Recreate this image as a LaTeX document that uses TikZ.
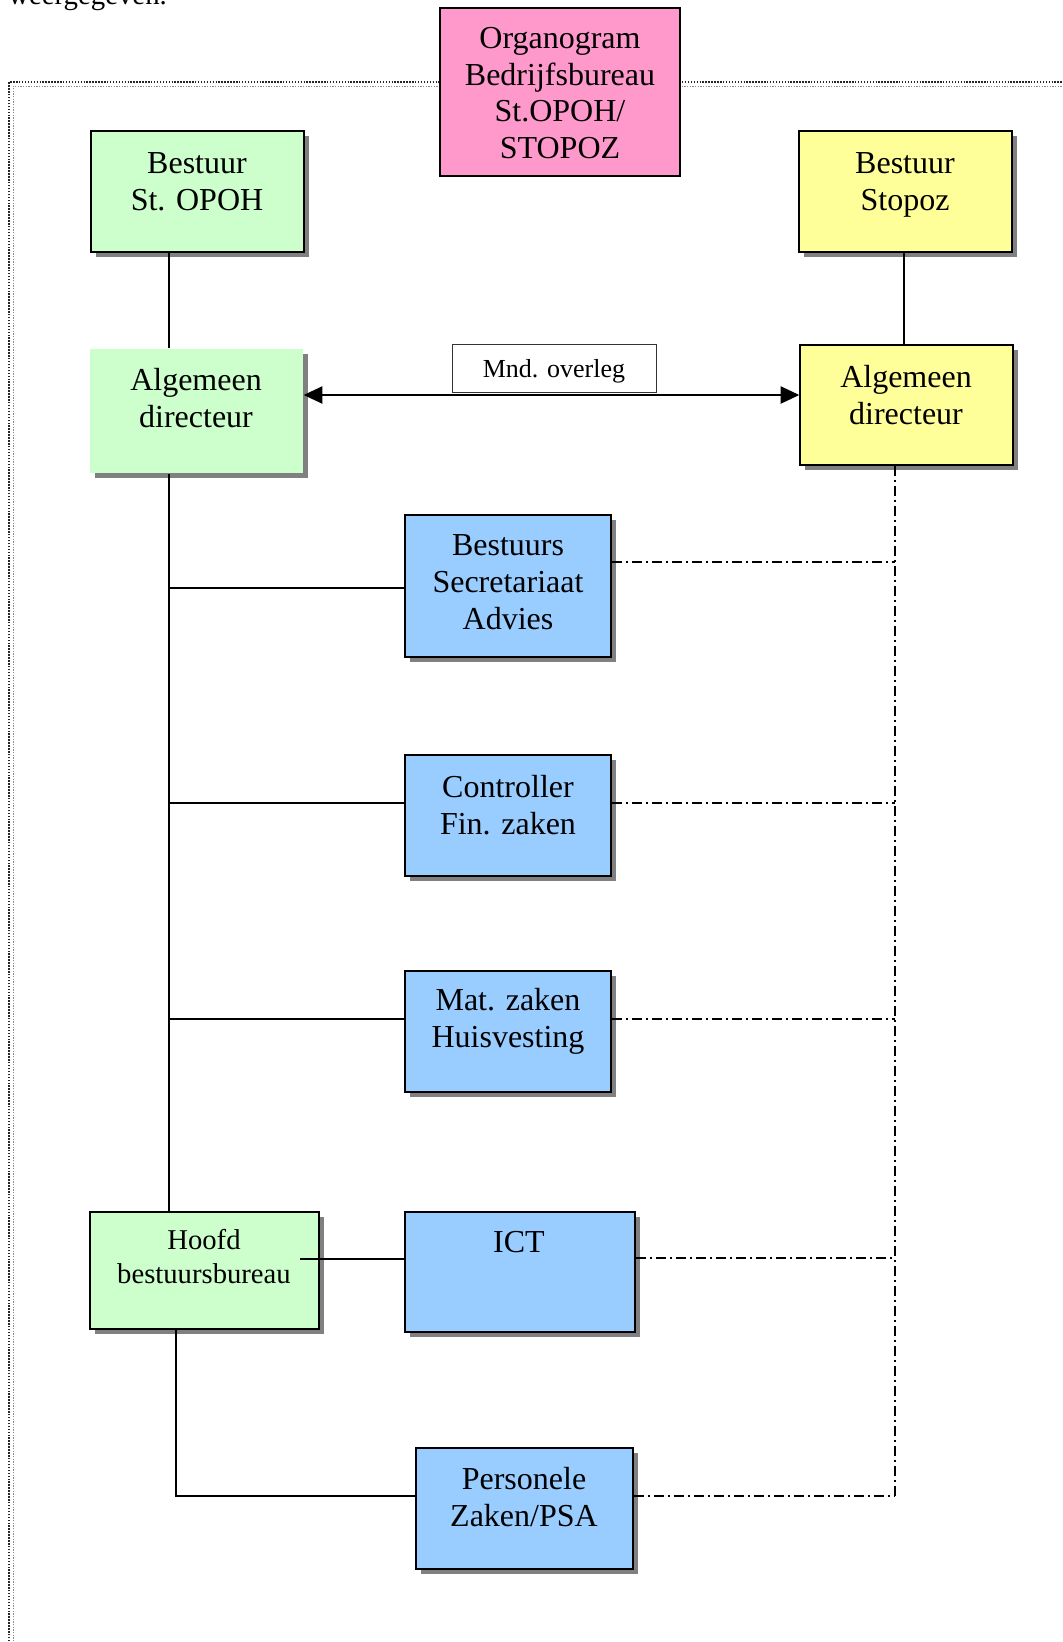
\documentclass[tikz,border=0pt]{standalone}
\usepackage{fontspec}
\setmainfont{Liberation Serif}
\usetikzlibrary{shadows,arrows.meta}
\definecolor{boxgreen}{HTML}{CCFFCC}
\definecolor{boxyellow}{HTML}{FFFF99}
\definecolor{boxblue}{HTML}{99CCFF}
\definecolor{boxpink}{HTML}{FF99CC}
\definecolor{shadowgray}{HTML}{808080}
\begin{document}
\begin{tikzpicture}[x=0.75pt,y=-0.75pt,
  box/.style={draw=black, line width=1.1pt, inner sep=0pt,
    drop shadow={shadow xshift=4pt, shadow yshift=-4pt, fill=shadowgray, opacity=1}},
  plainbox/.style={draw=black, line width=1.1pt, inner sep=0pt},
  txt/.style={align=center, inner sep=0pt, font=\fontsize{24pt}{27.6pt}\selectfont},
  smalltxt/.style={align=center, inner sep=0pt, font=\fontsize{21.5pt}{25.5pt}\selectfont},
  link/.style={line width=0.9pt},
  dashdot/.style={line width=0.9pt, dash pattern=on 7.5pt off 3pt on 1.5pt off 3pt},
  frameouter/.style={line width=1.1pt, black!85, dash pattern=on 1.1pt off 1.1pt},
  frameinner/.style={line width=0.7pt, black!45, dash pattern=on 1pt off 1pt}
]
\useasboundingbox (0,0) rectangle (1063,1642);

% intro text (cut off at top)
\node[anchor=base west, inner sep=0pt, font=\fontsize{21.6pt}{24pt}\selectfont] (intro) at (8,4) {weergegeven.};

% dotted frame
\coordinate (fo1) at (9,1700);
\coordinate (fo2) at (9,82);
\coordinate (fo3) at (1100,82);
\coordinate (fi1) at (13,1700);
\coordinate (fi2) at (13,86);
\coordinate (fi3) at (1100,86);
\draw[frameouter] (fo1) -- (fo2) -- (fo3);
\draw[frameinner] (fi1) -- (fi2) -- (fi3);

% title box
\node[plainbox, fill=boxpink, minimum width=180pt, minimum height=126pt] (title) at (560,92) {};
\node[txt] (title-t) at (560,93) {Organogram\\Bedrijfsbureau\\St.OPOH/\\STOPOZ};

% boards
\node[box, fill=boxgreen, minimum width=159.75pt, minimum height=90.75pt] (bso) at (197.5,191.5) {};
\node[txt] (bso-t) at (197,182) {Bestuur\\St. OPOH};
\node[box, fill=boxyellow, minimum width=159.75pt, minimum height=90.75pt] (bst) at (905.5,191.5) {};
\node[txt] (bst-t) at (905,185) {Bestuur\\Stopoz};

% directors
\node[box, draw=none, fill=boxgreen, minimum width=159.75pt, minimum height=93pt] (ado) at (196.5,411) {};
\node[txt] (ado-t) at (196,398) {Algemeen\\directeur};
\node[box, fill=boxyellow, minimum width=159.75pt, minimum height=90pt] (ads) at (906.5,405) {};
\node[txt] (ads-t) at (906,395) {Algemeen\\directeur};

% overleg label box
\node[draw=black!80, line width=0.6pt, fill=white, minimum width=153pt, minimum height=36pt, inner sep=0pt,
  text depth=0pt, font=\fontsize{19.5pt}{22pt}\selectfont] (mnd) at (554,368) {Mnd. overleg};

% departments
\node[box, fill=boxblue, minimum width=154.5pt, minimum height=106.5pt] (bsa) at (508,586) {};
\node[txt] (bsa-t) at (508,582) {Bestuurs\\Secretariaat\\Advies};
\node[box, fill=boxblue, minimum width=154.5pt, minimum height=90.75pt] (cfz) at (508,815.5) {};
\node[txt] (cfz-t) at (508,805) {Controller\\Fin. zaken};
\node[box, fill=boxblue, minimum width=154.5pt, minimum height=90.75pt] (mzh) at (508,1031.5) {};
\node[txt] (mzh-t) at (508,1021) {Mat. zaken\\Huisvesting};
\node[box, fill=boxgreen, minimum width=171.75pt, minimum height=87.75pt] (hbb) at (204.5,1270.5) {};
\node[smalltxt] (hbb-t) at (204,1257) {Hoofd\\bestuursbureau};
\node[box, fill=boxblue, minimum width=172.5pt, minimum height=90pt] (ict) at (520,1272) {};
\node[txt] (ict-t) at (519,1242) {ICT};
\node[box, fill=boxblue, minimum width=162.75pt, minimum height=90.75pt] (psa) at (524.5,1508.5) {};
\node[txt] (psa-t) at (524,1497) {Personele\\Zaken/PSA};

% helper coordinates
\coordinate (tl) at (169,0);
\coordinate (tr) at (904,0);
\coordinate (ay) at (0,395);
\coordinate (y1) at (0,588);
\coordinate (y2) at (0,803);
\coordinate (y3) at (0,1019);
\coordinate (hi) at (300,1259);
\coordinate (hb) at (176,0);
\coordinate (yp) at (0,1496);
\coordinate (dx) at (895,0);
\coordinate (d1) at (0,562);
\coordinate (d2) at (0,803);
\coordinate (d3) at (0,1019);
\coordinate (d4) at (0,1258);
\coordinate (d5) at (0,1496);

% solid connectors
\draw[link] (tl |- bso.south) -- (tl |- ado.north);
\draw[link] (tr |- bst.south) -- (tr |- ads.north);
\draw[link] (tl |- ado.south) -- (tl |- hbb.north);
\draw[link] (tl |- y1) -- (bsa.west |- y1);
\draw[link] (tl |- y2) -- (cfz.west |- y2);
\draw[link] (tl |- y3) -- (mzh.west |- y3);
\draw[link] (hi) -- (ict.west |- hi);
\draw[link] (hb |- hbb.south) -- (hb |- yp) -- (psa.west |- yp);

% arrow between directors
\draw[link, {Triangle[length=14pt,width=13pt]}-{Triangle[length=14pt,width=13pt]}] (ado.east |- ay) -- (ads.west |- ay);

% dash-dot connectors
\draw[dashdot] (dx |- ads.south) -- (dx |- d5);
\draw[dashdot] (bsa.east |- d1) -- (dx |- d1);
\draw[dashdot] (cfz.east |- d2) -- (dx |- d2);
\draw[dashdot] (mzh.east |- d3) -- (dx |- d3);
\draw[dashdot] (ict.east |- d4) -- (dx |- d4);
\draw[dashdot] (psa.east |- d5) -- (dx |- d5);
\end{tikzpicture}
\end{document}
